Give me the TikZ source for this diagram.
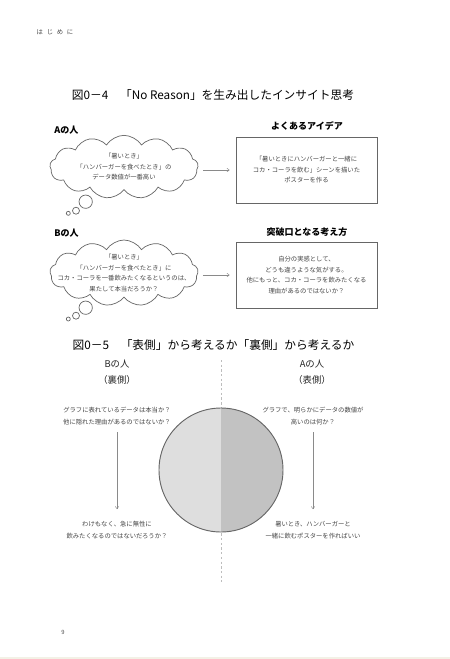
\documentclass[tikz,border=0pt]{standalone}
\usepackage{fontspec}
\setmainfont{Noto Sans CJK JP}
\usepackage{tikz}
\usetikzlibrary{arrows.meta,shapes.symbols}

\definecolor{inkgray}{HTML}{444444}
\definecolor{linegray}{HTML}{666666}
\definecolor{arrowgray}{HTML}{8A8A8A}
\definecolor{dashgray}{HTML}{BDBDBD}
\definecolor{backside}{HTML}{DEDEDE}
\definecolor{frontside}{HTML}{C2C2C2}
\definecolor{pagestrip}{HTML}{F3F1E6}

\begin{document}
\begin{tikzpicture}[
        x=0.03cm, y=-0.03cm,
        note/.style={
            align=center,
            text=inkgray,
            inner sep=1pt,
            font=\fontsize{5.4}{9}\selectfont
        },
        sidenote/.style={
            align=center,
            text=inkgray,
            inner sep=1pt,
            font=\fontsize{5.4}{10.2}\selectfont
        },
        heading/.style={
            align=center,
            inner sep=1pt,
            font=\fontsize{7.7}{13.6}\selectfont\bfseries
        },
        sidehead/.style={
            align=center,
            inner sep=1pt,
            text=black!85,
            font=\fontsize{8}{13.6}\selectfont
        },
        figtitle/.style={
            inner sep=1pt,
            font=\fontsize{10}{12}\selectfont
        },
        thought/.style={
            cloud,
            draw=linegray,
            line width=0.6pt,
            cloud puffs=13,
            cloud puff arc=115,
            aspect=2.4,
            minimum width=4.45cm,
            minimum height=1.9cm,
            inner sep=0pt
        },
        puff/.style={
            draw=linegray,
            line width=0.6pt,
            fill=white
        },
        ideabox/.style={
            rectangle,
            draw=linegray,
            line width=0.8pt,
            minimum width=4.23cm,
            minimum height=1.98cm
        },
        arrow/.style={-{Straight Barb[length=2pt,width=3pt]}, draw=arrowgray, line width=0.4pt}
    ]
        \useasboundingbox (0,0) rectangle (450,659);
        \fill[pagestrip] (0,656.5) rectangle (450,659);

        % Running head and page number
        \node[text=inkgray, font=\fontsize{5.4}{6}\selectfont] (runhead) at (55,32) {は\hspace{3.2pt}じ\hspace{3.2pt}め\hspace{3.2pt}に};
        \node[text=inkgray, font=\fontsize{5}{6}\selectfont] (pagenum) at (63,632) {9};

        % Figure 0-4
        \node[figtitle] (title1) at (213,95) {図0－4　「No Reason」を生み出したインサイト思考};

        \node[heading, anchor=west] (headA) at (53,130) {Aの人};
        \node[thought] (cloudA) at (124,167) {};
        \node[note] (thinkA) at (cloudA.center) {「暑いとき」\\「ハンバーガーを食べたとき」の\\データ数値が一番高い};
        \node[puff, circle, minimum size=0.4cm, inner sep=0pt] (puffA1) at (85.7,201.7) {};
        \node[puff, circle, minimum size=0.21cm, inner sep=0pt] (puffA2) at (76,210.7) {};
        \node[puff, circle, minimum size=0.12cm, inner sep=0pt] (puffA3) at (68.3,213.3) {};

        \node[heading] (headIdea) at (307,126) {よくあるアイデア};
        \node[ideabox] (ideaA) at (306.5,170) {};
        \node[note] (ideaAtext) at (ideaA.center) {「暑いときにハンバーガーと一緒に\\コカ・コーラを飲む」シーンを描いた\\ポスターを作る};

        \node[heading, anchor=west] (headB) at (53,233) {Bの人};
        \node[thought, minimum height=1.98cm] (cloudB) at (124,273) {};
        \node[note] (thinkB) at (cloudB.center) {「暑いとき」\\「ハンバーガーを食べたとき」に\\コカ・コーラを一番飲みたくなるというのは、\\果たして本当だろうか？};
        \node[puff, circle, minimum size=0.4cm, inner sep=0pt] (puffB1) at (85.7,307.7) {};
        \node[puff, circle, minimum size=0.21cm, inner sep=0pt] (puffB2) at (76,315.7) {};
        \node[puff, circle, minimum size=0.12cm, inner sep=0pt] (puffB3) at (68.3,319) {};

        \node[heading] (headBreak) at (307,232) {突破口となる考え方};
        \node[ideabox] (ideaB) at (306.5,275) {};
        \node[note] (ideaBtext) at (ideaB.center) {自分の実感として、\\どうも違うような気がする。\\他にもっと、コカ・コーラを飲みたくなる\\理由があるのではないか？};

        \draw[arrow, shorten <=4pt, shorten >=5pt] (ideaA.west -| cloudA.east) -- (ideaA.west);
        \draw[arrow, shorten <=4pt, shorten >=5pt] (ideaB.west -| cloudB.east) -- (ideaB.west);

        % Figure 0-5
        \node[figtitle] (title2) at (213.5,345) {図0－5　「表側」から考えるか「裏側」から考えるか};

        \coordinate (divtop) at (221,360);
        \coordinate (divbot) at (221,582);
        \draw[dashgray, line width=0.5pt, dash pattern=on 2pt off 2pt] (divtop) -- (divbot);

        \node[sidehead] (sideB) at (117,372) {Bの人\\（裏側）};
        \node[sidehead] (sideA) at (312,372) {Aの人\\（表側）};

        \node[circle, draw=linegray, line width=0.8pt, minimum size=3.72cm, inner sep=0pt,
            path picture={
                \fill[backside] (path picture bounding box.south west) rectangle (path picture bounding box.north);
                \fill[frontside] (path picture bounding box.south) rectangle (path picture bounding box.north east);
            }] (disc) at (221,470) {};

        \node[sidenote] (askB) at (117,416) {グラフに表れているデータは本当か？\\他に隠れた理由があるのではないか？};
        \node[sidenote] (guessB) at (117,530) {わけもなく、急に無性に\\飲みたくなるのではないだろうか？};
        \node[sidenote] (askA) at (313,416) {グラフで、明らかにデータの数値が\\高いのは何か？};
        \node[sidenote] (guessA) at (313,530) {暑いとき、ハンバーガーと\\一緒に飲むポスターを作ればいい};

        \draw[arrow, shorten <=5pt, shorten >=9pt] (askB.south) -- (guessB.north);
        \draw[arrow, shorten <=5pt, shorten >=9pt] (askA.south) -- (guessA.north);

    \end{tikzpicture}
\end{document}
